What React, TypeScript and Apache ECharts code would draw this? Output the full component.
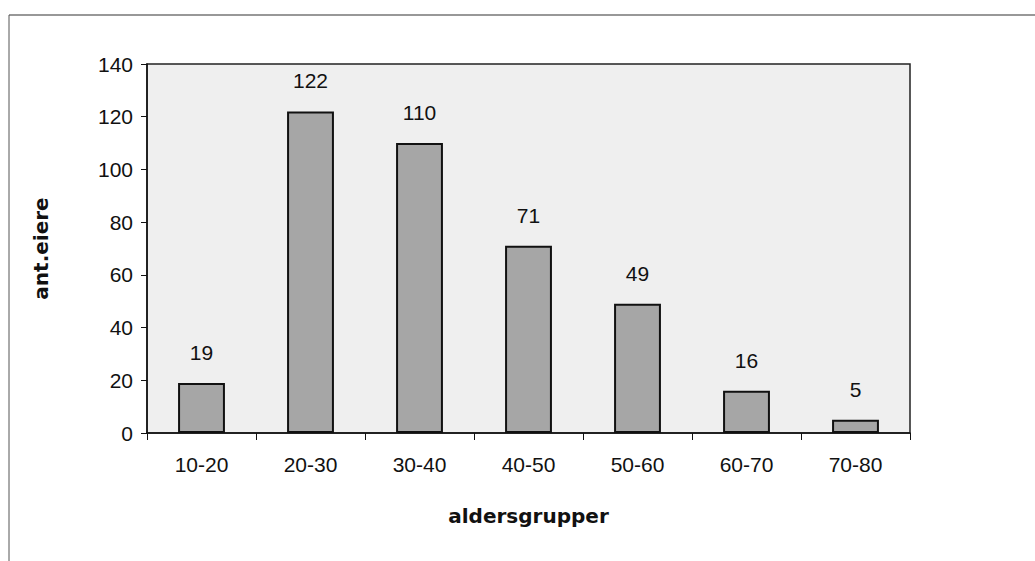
import React, { useEffect, useRef } from "react";
import * as echarts from "echarts";

const categories = ["10-20", "20-30", "30-40", "40-50", "50-60", "60-70", "70-80"];
const values = [19, 122, 110, 71, 49, 16, 5];
const yTicks = { min: 0, max: 140, interval: 20 };

export default function App() {
  const ref = useRef<HTMLDivElement>(null);
  useEffect(() => {
    document.body.style.margin = "0";
    const chart = echarts.init(ref.current!, null, { renderer: "svg" });
    chart.setOption({
      animation: false,
      backgroundColor: "#ffffff",
      textStyle: { fontFamily: "Liberation Sans, Arial, sans-serif" },
      graphic: [
        { type: "line", shape: { x1: 9, y1: 15, x2: 1035, y2: 15 }, style: { stroke: "#333", lineWidth: 1.2 } },
        { type: "line", shape: { x1: 9, y1: 15, x2: 9, y2: 561 }, style: { stroke: "#555", lineWidth: 1 } },
      ],
      grid: {
        left: 147,
        right: 125,
        top: 64,
        bottom: 128,
        show: true,
        backgroundColor: "#efefef",
        borderColor: "#222",
        borderWidth: 1.5,
      },
      xAxis: {
        type: "category",
        data: categories,
        name: "aldersgrupper",
        nameLocation: "middle",
        nameGap: 73,
        nameTextStyle: { fontSize: 20, fontWeight: "bold", color: "#111", fontFamily: "DejaVu Sans" },
        axisLine: { lineStyle: { color: "#111", width: 1.5 } },
        axisTick: { show: true, length: 7, inside: false, lineStyle: { color: "#111" } },
        axisLabel: { fontSize: 21, color: "#111", margin: 21 },
      },
      yAxis: {
        type: "value",
        min: yTicks.min,
        max: yTicks.max,
        interval: yTicks.interval,
        name: "ant.eiere",
        nameLocation: "middle",
        nameGap: 96,
        nameRotate: 90,
        nameTextStyle: { fontSize: 20, fontWeight: "bold", color: "#111", fontFamily: "DejaVu Sans" },
        axisLine: { show: true, lineStyle: { color: "#111", width: 1.5 } },
        axisTick: { show: true, length: 6, lineStyle: { color: "#111" } },
        axisLabel: { fontSize: 21, color: "#111", margin: 14 },
        splitLine: { show: false },
      },
      series: [
        {
          type: "bar",
          data: values,
          barWidth: "43%",
          itemStyle: { color: "#a6a6a6", borderColor: "#111", borderWidth: 2 },
          label: { show: true, position: "top", distance: 20, fontSize: 21, color: "#111" },
        },
      ],
    });
    return () => chart.dispose();
  }, []);
  return <div ref={ref} style={{ width: 1035, height: 561 }} />;
}
